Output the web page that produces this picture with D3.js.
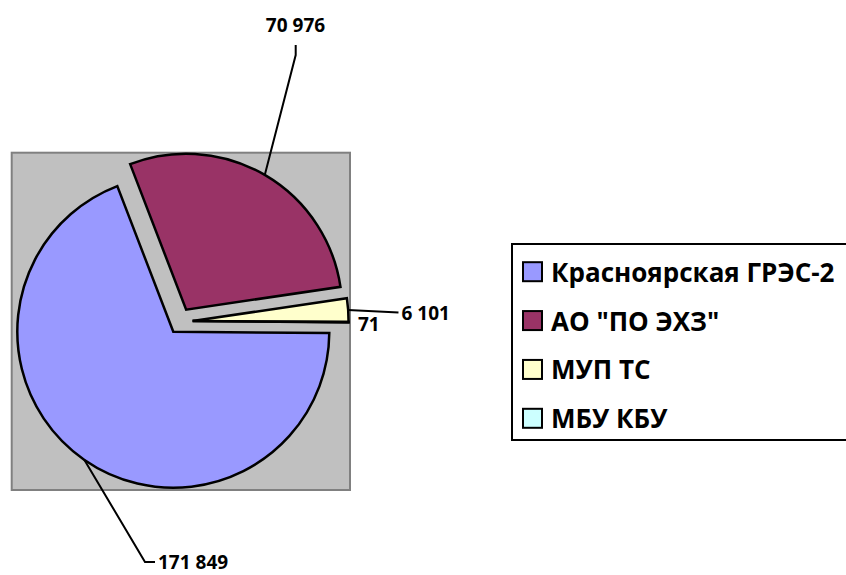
<!DOCTYPE html>
<html>
<head>
<meta charset="utf-8">
<script src="https://cdn.jsdelivr.net/npm/d3@7"></script>
<style>
  body { margin: 0; background: #fff; }
  svg { display: block; font-family: "Open Sans", "Noto Sans", sans-serif; }
</style>
</head>
<body>
<div id="chart"></div>
<script>
// data
const names = ["Красноярская ГРЭС-2", "АО \"ПО ЭХЗ\"", "МУП ТС", "МБУ КБУ"];
const values = [171849, 70976, 6101, 71];
const sliceColors = ["#9999ff", "#993366", "#ffffcc", "#ccffff"];

// layout
const W = 846, H = 575;
const cx = 173.3, cy = 331.7, radius = 156;
const startDeg = 90.5;
// explode distance (px) and direction (deg, null = slice middle)
const explodeDist = [0, 25.5, 22, 22];
const explodeDir = [null, null, 61, 61];

// label placement (leader elbow / end, text anchor point)
const labelLayout = [
  { elbow: [145, 562], end: [155, 562], text: [158, 561.5], anchor: "start" },
  { elbow: [295.7, 55], end: [295.7, 45], text: [295.5, 25], anchor: "middle" },
  { elbow: null, end: [398.5, 312.5], text: [401.5, 313], anchor: "start" },
  { elbow: null, end: null, text: [358, 324], anchor: "start" }
];

const fmt = v => d3.format(",")(v).replace(/,/g, " ");

const svg = d3.select("#chart")
  .append("svg")
  .attr("width", W)
  .attr("height", H);

// plot area
svg.append("rect")
  .attr("x", 11.7)
  .attr("y", 152.7)
  .attr("width", 338.3)
  .attr("height", 337.3)
  .attr("fill", "#c0c0c0")
  .attr("stroke", "#808080")
  .attr("stroke-width", 2);

const rad = deg => deg * Math.PI / 180;

const pie = d3.pie()
  .sort(null)
  .value(d => d)
  .startAngle(rad(startDeg))
  .endAngle(rad(startDeg + 360));

const arcs = pie(values);

const arc = d3.arc()
  .innerRadius(0)
  .outerRadius(radius);

function offset(d, i) {
  const a = explodeDir[i] != null ? rad(explodeDir[i]) : (d.startAngle + d.endAngle) / 2;
  return [explodeDist[i] * Math.sin(a), -explodeDist[i] * Math.cos(a)];
}

const slices = svg.append("g")
  .attr("transform", `translate(${cx},${cy})`);

slices.selectAll("path")
  .data(arcs)
  .enter()
  .append("path")
  .attr("transform", (d, i) => {
    const o = offset(d, i);
    return `translate(${o[0]},${o[1]})`;
  })
  .attr("d", arc)
  .attr("fill", (d, i) => sliceColors[i])
  .attr("stroke", "#000")
  .attr("stroke-width", 2.5)
  .attr("stroke-linejoin", "miter");

// leader lines + data labels
arcs.forEach((d, i) => {
  const lay = labelLayout[i];
  const o = offset(d, i);
  const mid = (d.startAngle + d.endAngle) / 2;
  const sx = cx + o[0] + radius * Math.sin(mid);
  const sy = cy + o[1] - radius * Math.cos(mid);

  if (lay.end) {
    const pts = [[sx, sy]];
    if (lay.elbow) pts.push(lay.elbow);
    pts.push(lay.end);
    svg.append("path")
      .attr("d", d3.line()(pts))
      .attr("fill", "none")
      .attr("stroke", "#000")
      .attr("stroke-width", 2);
  }

  svg.append("text")
    .attr("x", lay.text[0])
    .attr("y", lay.text[1])
    .attr("text-anchor", lay.anchor)
    .attr("dominant-baseline", "central")
    .style("font-size", "19px")
    .style("font-weight", "700")
    .style("fill", "#000")
    .text(fmt(values[i]));
});

// legend
const legend = svg.append("g");

legend.append("rect")
  .attr("x", 512)
  .attr("y", 244)
  .attr("width", 345)
  .attr("height", 196)
  .attr("fill", "#fff")
  .attr("stroke", "#000")
  .attr("stroke-width", 2);

const rowY = d3.scalePoint()
  .domain(names)
  .range([271.7, 418.3]);

const items = legend.selectAll(".legend-item")
  .data(names)
  .enter()
  .append("g")
  .attr("class", "legend-item")
  .attr("transform", d => `translate(0,${rowY(d)})`);

items.append("rect")
  .attr("x", 523)
  .attr("y", -9.5)
  .attr("width", 19)
  .attr("height", 19)
  .attr("fill", (d, i) => sliceColors[i])
  .attr("stroke", "#000")
  .attr("stroke-width", 2);

items.append("text")
  .attr("x", 551)
  .attr("y", 0)
  .attr("dominant-baseline", "central")
  .style("font-size", "26px")
  .style("font-weight", "700")
  .style("fill", "#000")
  .text(d => d);
</script>
</body>
</html>
